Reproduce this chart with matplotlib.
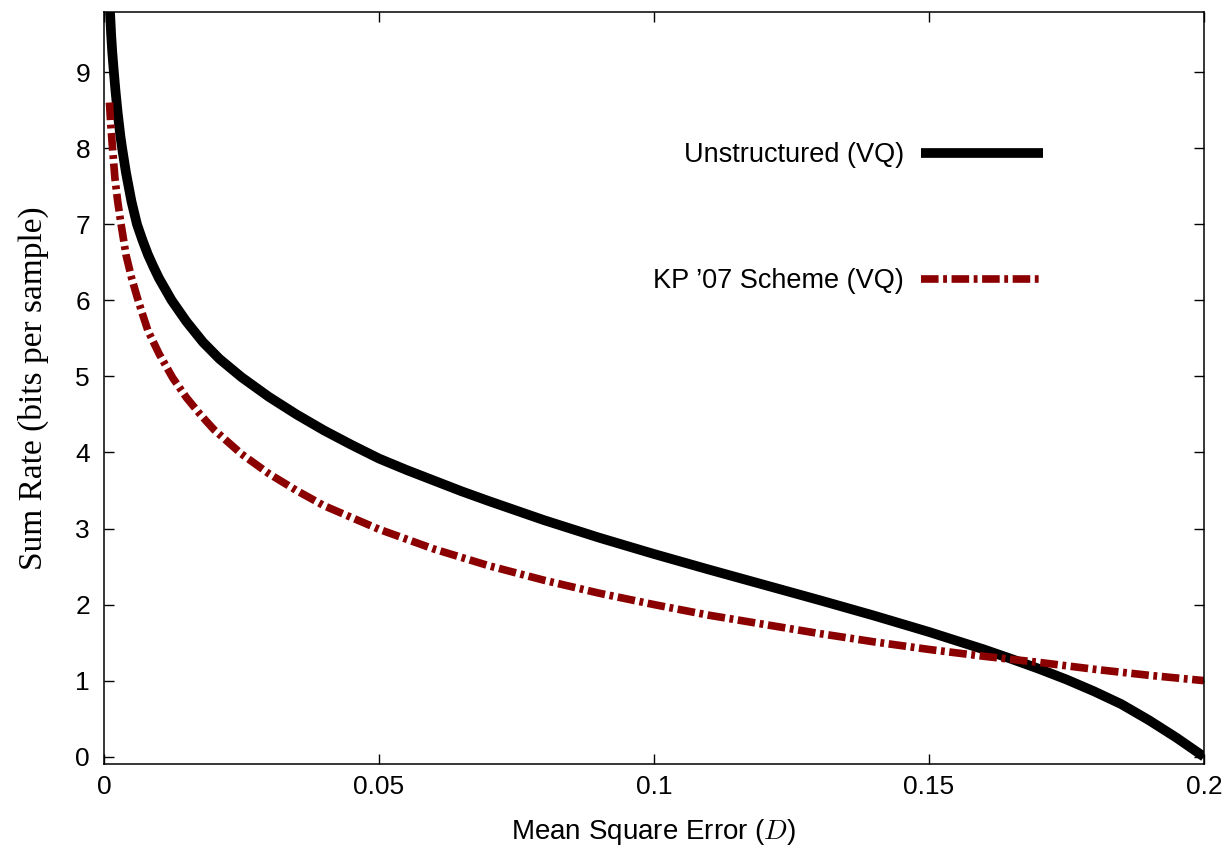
import numpy as np
import matplotlib as mpl
mpl.use('Agg')
import matplotlib.pyplot as plt

# Unstructured (VQ)
d_vq = [0.001, 0.0011, 0.0013, 0.0015, 0.0018, 0.0021, 0.0025, 0.003, 0.0033,
        0.004, 0.005, 0.006, 0.007, 0.008, 0.009, 0.01,
        0.0123, 0.015, 0.018, 0.021, 0.025, 0.03, 0.035, 0.04, 0.045, 0.05,
        0.055, 0.06, 0.065, 0.07, 0.08, 0.09, 0.1, 0.11, 0.12,
        0.13, 0.14, 0.15, 0.16, 0.165, 0.17, 0.175, 0.18, 0.185, 0.19, 0.195, 0.2]
r_vq = [9.95, 9.79, 9.5, 9.27, 9.0, 8.75, 8.46, 8.15, 8.0,
        7.68, 7.3, 7.0, 6.79, 6.6, 6.44, 6.29,
        6.0, 5.72, 5.45, 5.23, 4.99, 4.73, 4.5, 4.29, 4.1, 3.92,
        3.77, 3.63, 3.49, 3.36, 3.11, 2.88, 2.665, 2.46, 2.26,
        2.06, 1.855, 1.64, 1.41, 1.285, 1.155, 1.015, 0.86, 0.69, 0.48, 0.25, 0.0]

# KP '07 Scheme (VQ)
d_kp = [0.001, 0.0012, 0.0015, 0.002, 0.0025, 0.003, 0.004, 0.005, 0.006, 0.007,
        0.008, 0.01, 0.0125, 0.015, 0.0175,
        0.02, 0.025, 0.03, 0.035, 0.04, 0.05, 0.06, 0.07, 0.08, 0.09,
        0.1, 0.11, 0.12, 0.13, 0.14, 0.15, 0.16, 0.17, 0.18, 0.19, 0.2]
r_kp = [8.6, 8.35, 8.05, 7.6, 7.3, 7.05, 6.6, 6.3, 6.05, 5.82,
        5.6, 5.3, 4.98, 4.72, 4.5,
        4.3, 3.98, 3.72, 3.5, 3.3, 2.99, 2.73, 2.51, 2.32, 2.15,
        2.0, 1.86, 1.74, 1.62, 1.51, 1.41, 1.32, 1.24, 1.15, 1.07, 1.0]

x_ticks = [0, 0.05, 0.1, 0.15, 0.2]
x_ticklabels = ['0', '0.05', '0.1', '0.15', '0.2']
y_ticks = list(range(0, 10))

plt.rcParams['font.family'] = ['Liberation Sans', 'DejaVu Sans']
plt.rcParams['mathtext.fontset'] = 'cm'

fig = plt.figure(figsize=(12.26, 8.59), dpi=100)
ax = fig.add_axes([0.0848, 0.1106, 0.8972, 0.8754])

ax.plot(d_vq, r_vq, color='black', lw=7.0, solid_capstyle='butt',
        solid_joinstyle='round', label='Unstructured (VQ)')
ax.plot(d_kp, r_kp, color='#8b0000', lw=5.5, dash_capstyle='butt',
        dashes=(2.3, 0.6, 0.5, 0.6), label="KP \u201907 Scheme (VQ)")

ax.set_xlim(0, 0.2)
ax.set_ylim(-0.096, 9.79)
ax.set_xticks(x_ticks)
ax.set_xticklabels(x_ticklabels)
ax.set_yticks(y_ticks)
ax.tick_params(direction='in', length=7, width=1.0, labelsize=19,
               top=True, right=True)
ax.tick_params(axis='x', pad=8)
ax.tick_params(axis='y', pad=10)
for s in ax.spines.values():
    s.set_linewidth(1.1)

ax.set_xlabel('Mean Square Error ($D$)', fontsize=20, labelpad=13)
ax.set_ylabel('Sum Rate (bits per sample)', fontsize=24, labelpad=19,
              family=['Liberation Serif', 'DejaVu Serif'])

ax.legend(loc='upper right', bbox_to_anchor=(0.8536, 0.827), frameon=False,
          markerfirst=False, fontsize=19.5, handlelength=4.5,
          handletextpad=0.63, labelspacing=3.7, borderpad=0, borderaxespad=0)

plt.savefig('out.png', dpi=100)
